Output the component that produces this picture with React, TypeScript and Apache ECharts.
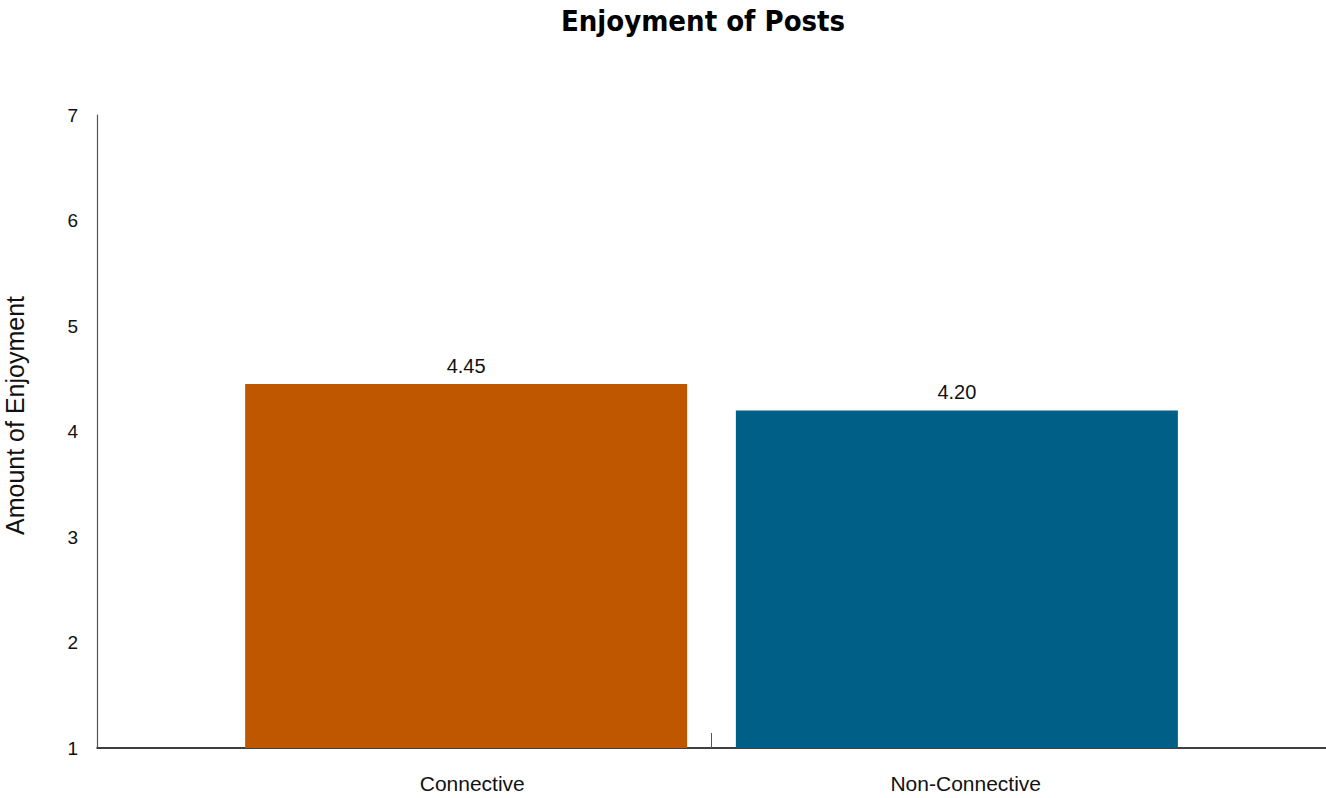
import React, { useEffect, useRef } from "react";
import * as echarts from "echarts";

const categories = ["Connective", "Non-Connective"];
const connectiveValues: (number | string)[] = [4.45, "-"];
const nonConnectiveValues: (number | string)[] = ["-", 4.2];
const yTicks = [1, 2, 3, 4, 5, 6, 7];
const colors = { connective: "#BF5700", nonConnective: "#005F86" };

export default function App() {
  const ref = useRef<HTMLDivElement>(null);
  useEffect(() => {
    if (!ref.current) return;
    const chart = echarts.init(ref.current, null, { renderer: "svg" });
    const font = "'Liberation Sans', Arial, sans-serif";
    const valueLabel = {
      show: true,
      position: "top",
      distance: 8,
      fontFamily: font,
      fontSize: 20,
      color: "#111",
      formatter: (p: any) => Number(p.value).toFixed(2),
    };
    chart.setOption({
      animation: false,
      title: {
        text: "Enjoyment of Posts",
        left: 698,
        textAlign: "center",
        top: 1,
        textStyle: {
          fontFamily: "'Liberation Sans Narrow', 'DejaVu Sans Condensed', sans-serif",
          fontWeight: "bold",
          fontSize: 29,
          color: "#000",
        },
      },
      grid: { left: 97, right: 0, top: 115, bottom: 50, containLabel: false, outerBoundsMode: "none" },
      xAxis: {
        type: "category",
        data: categories,
        boundaryGap: true,
        axisLine: { lineStyle: { color: "#000", width: 1.5 } },
        axisTick: { show: true, inside: true, length: 15, lineStyle: { color: "#555" } },
        axisLabel: {
          fontFamily: font,
          fontSize: 21,
          color: "#111",
          margin: 25,
          formatter: (v: string) => (v === categories[0] ? "{a|" + v + "}" : "{b|" + v + "}"),
          rich: {
            a: { fontFamily: font, fontSize: 21, color: "#111", padding: [0, 0, 0, 136] },
            b: { fontFamily: font, fontSize: 21, color: "#111", padding: [0, 106, 0, 0] },
          },
        },
        splitLine: { show: false },
      },
      yAxis: {
        type: "value",
        min: yTicks[0],
        max: yTicks[yTicks.length - 1],
        interval: 1,
        name: "Amount of Enjoyment",
        nameLocation: "middle",
        nameGap: 70,
        nameTextStyle: { fontFamily: font, fontSize: 25, color: "#111", padding: [0, 0, 0, 32] },
        axisLine: { show: true, lineStyle: { color: "#555", width: 1.2 } },
        axisTick: { show: false },
        axisLabel: { fontFamily: font, fontSize: 19, color: "#111", margin: 19 },
        splitLine: { show: false },
      },
      series: [
        {
          name: "Non-Connective",
          type: "bar",
          data: nonConnectiveValues,
          barWidth: 442,
          barGap: "-72%",
          itemStyle: { color: colors.nonConnective },
          label: valueLabel,
        },
        {
          name: "Connective",
          type: "bar",
          data: connectiveValues,
          barWidth: 442,
          barGap: "-72%",
          itemStyle: { color: colors.connective },
          label: valueLabel,
        },
      ],
    });
    return () => chart.dispose();
  }, []);
  return (
    <div
      ref={ref}
      style={{ position: "absolute", left: 0, top: 0, width: 1326, height: 798, background: "#fff" }}
    />
  );
}
